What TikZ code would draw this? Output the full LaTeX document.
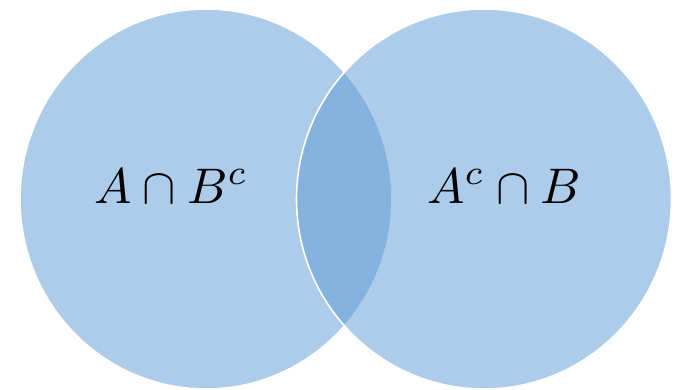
\documentclass[tikz,border=0pt]{standalone}
\usepackage{amsmath}
\definecolor{setblue}{HTML}{5B9BD5}
\begin{document}
\begin{tikzpicture}[x=1pt,y=-1pt,
  setfill/.style={fill=setblue,fill opacity=0.5,draw=white,line width=1.6pt},
  setlabel/.style={inner sep=0pt}]
\useasboundingbox (0,0) rectangle (677,389);
\fill[white] (0,0) rectangle (677,389);
\coordinate (ca) at (206,199);
\coordinate (cb) at (484,199);
\path[setfill] (ca) ellipse [x radius=186, y radius=190];
\path[setfill] (cb) ellipse [x radius=187.5, y radius=190];
\node[setlabel] (la) at (171,186) {\scalebox{5.0}{$A \cap B^{c}$}};
\node[setlabel] (lb) at (504,186) {\scalebox{5.0}{$A^{c} \cap B$}};
\end{tikzpicture}
\end{document}
